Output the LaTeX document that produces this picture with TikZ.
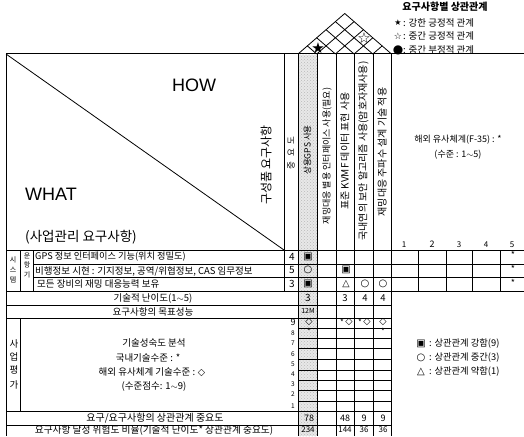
\documentclass[tikz,border=0pt]{standalone}
\usepackage{fontspec}
\setmainfont{Noto Sans CJK KR}
\newfontfamily\symf{DejaVu Sans}
\newfontfamily\latf{Liberation Sans}
\usetikzlibrary{patterns}
\tikzset{
  lab/.style={inner sep=0pt,anchor=center,font=\fontsize{#1}{#1}\selectfont},
  lableft/.style={inner sep=0pt,anchor=west,font=\fontsize{#1}{#1}\selectfont},
  symb/.style={inner sep=0pt,anchor=center,font=\symf\fontsize{#1}{#1}\selectfont},
  big/.style={inner sep=0pt,anchor=center,font=\latf\fontsize{#1}{#1}\selectfont},
  gridline/.style={line width=1pt,black},
  thin grid/.style={line width=0.8pt,black}
}
\begin{document}
\begin{tikzpicture}[x=1pt,y=-1pt]
\useasboundingbox (0,0) rectangle (524,436);
\fill[white] (0,0) rectangle (524,436);
% shaded column
\fill[gray!18] (298,55) rectangle (317,436);
\fill[pattern=crosshatch dots,pattern color=gray!55] (298,55) rectangle (317,436);
% roof lattice
\foreach \i in {0,...,5}{
  \pgfmathsetmacro{\xa}{298+18.7*\i}
  \pgfmathsetmacro{\xb}{298+18.7*\i+9.35*(5-\i)}
  \pgfmathsetmacro{\yb}{54-8.1*(5-\i)}
  \draw[thin grid] (\xa,54) -- (\xb,\yb);
  \pgfmathsetmacro{\xd}{298+18.7*\i-9.35*\i}
  \pgfmathsetmacro{\yd}{54-8.1*\i}
  \draw[thin grid] (\xa,54) -- (\xd,\yd);
}
% main outline
\draw[gridline] (6,54) -- (524,54);
\draw[gridline] (6,54) -- (6,436);
\draw[thin grid] (6,54) -- (284,250);
% columns
\draw[thin grid] (284,54) -- (284,291);
\foreach \x in {298,317,336,354,373,391}{\draw[gridline] (\x,54) -- (\x,436);}
\draw[gridline] (20,250) -- (20,291);
\draw[gridline] (33,250) -- (33,291);
\draw[gridline] (20,318) -- (20,411);
\foreach \x in {418,446,472,500}{\draw[gridline] (\x,250) -- (\x,291);}
% rows
\draw[gridline] (6,250) -- (524,250);
\draw[gridline] (33,264) -- (524,264);
\draw[gridline] (33,277) -- (524,277);
\draw[gridline] (6,291) -- (524,291);
\draw[gridline] (6,305) -- (391,305);
\draw[gridline] (6,318) -- (391,318);
\foreach \y in {328,338,348,359,370,380,390,401}{\draw[gridline] (298,\y) -- (391,\y);}
\draw[gridline] (6,411) -- (391,411);
\draw[gridline] (6,425) -- (391,425);
% roof symbols
\node[symb=15] (rstar) at (318,48.5) {★};
\node[symb=15] (rostar) at (364,38.5) {☆};
% legend top
\node[lab=10,font=\bfseries\fontsize{10}{10}\selectfont] (lt) at (445,7) {요구사항별 상관관계};
\node[symb=8] (l1s) at (398,23) {★};
\node[lableft=9.5] (l1) at (403,23) {: 강한 긍정적 관계};
\node[symb=9] (l2s) at (398,36) {☆};
\node[lableft=9.5] (l2) at (403,36) {: 중간 긍정적 관계};
\node[symb=12] (l3s) at (398,50) {●};
\node[lableft=9.5] (l3) at (403,50) {: 중간 부정적 관계};
% main labels
\node[big=18] (how) at (194,85) {HOW};
\node[big=18] (what) at (51,194) {WHAT};
\node[lab=13.5] (sub) at (81,237) {(사업관리 요구사항)};
\node[lab=12,rotate=90] (parts) at (266,165) {구성품 요구사항};
\node[lab=8.5,rotate=90] (imp) at (291,153) {중\hspace{5pt}요\hspace{5pt}도};
\node[lab=8.5,rotate=90] (c2) at (307.5,150) {상용GPS 사용};
\node[lab=9,rotate=90] (c3) at (327,156) {재밍대응 별용 인터페이스 사용(필요)};
\node[lab=10,rotate=90] (c4) at (345,151) {표준 KVMF 데이터 표현 사용};
\node[lab=10,rotate=90] (c5) at (363.5,151) {국내연의 보안 알고리즘 사용(암호자재사용)};
\node[lab=10,rotate=90] (c6) at (382,152) {재밍대응 주파수 설계 기술 적용};
\node[lab=9] (f1) at (458,140) {해외 유사체계(F-35) : *};
\node[lab=9] (f2) at (458,155) {(수준 : 1$\sim$5)};
% scale heads
\node[lab=8] (s1) at (404,245) {1};
\node[lab=9] (s2) at (432,244) {2};
\node[lab=8] (s3) at (459,245) {3};
\node[lab=8] (s4) at (486,245) {4};
\node[lab=8] (s5) at (512,245) {5};
\foreach \y/\n in {255/a,269/b,283/c}{\node[lab=9] (st\n) at (513,\y) {*};}
% left labels
\foreach \t/\y/\n in {시/260/a,스/270/b,템/280/c}{\node[lab=7] (sys\n) at (13,\y) {\t};}
\foreach \t/\y/\n in {운/256/a,항/265/b,기/275/c}{\node[lab=7] (op\n) at (27,\y) {\t};}
\foreach \t/\y/\n in {사/344/a,업/357/b,평/370/c,가/385/d}{\node[lab=9.5] (ev\n) at (14,\y) {\t};}
\node[lableft=9.2] (r1) at (35,257) {GPS 정보 인터페이스 기능(위치 정밀도)};
\node[lableft=9.5] (r2) at (35,271) {비행정보 시현 : 기지정보, 공역/위협정보, CAS 임무정보};
\node[lableft=9.5] (r3) at (37,284) {모든 장비의 재밍 대응능력 보유};
\node[lab=9.5] (r4) at (153,298) {기술적 난이도(1$\sim$5)};
\node[lab=9.5] (r5) at (153,312) {요구사항의 목표성능};
\node[lab=9.5] (m1) at (154,343) {기술성숙도 분석};
\node[lab=9.5] (m2) at (148,358) {국내기술수준 : *};
\node[lab=9.5] (m3) at (152,372) {해외 유사체계 기술수준 : {\symf ◇}};
\node[lab=9.5] (m4) at (154,386) {(수준점수: 1$\sim$9)};
\node[lab=10] (b1) at (155,418) {요구/요구사항의 상관관계 중요도};
\node[lab=9.7] (b2) at (154,430) {요구사항 달성 위험도 비율(기술적 난이도* 상관관계 중요도)};
% importance numbers
\foreach \v/\y/\n in {4/257/a,5/270/b,3/284/c}{\node[lab=10] (im\n) at (292,\y) {\v};}
\foreach \v/\y/\n in {9/322/a}{\node[lab=9] (sc\n) at (293,\y) {\v};}
\foreach \v/\y/\n in {8/333/b,7/343/c,6/354/d,5/364/e,4/374/f,3/384/g,2/394/h,1/406/i}{\node[lab=6.5] (sc\n) at (293,\y) {\v};}
% relationship symbols
\node[symb=10] (a1) at (308,257) {▣};
\node[symb=10] (a2) at (308,270) {○};
\node[symb=10] (a3) at (308,284) {▣};
\node[symb=10] (a4) at (346,270) {▣};
\node[symb=9.5] (a5) at (346,284) {△};
\node[symb=10] (a6) at (365,284) {○};
\node[symb=10] (a7) at (383,284) {○};
\node[lab=10] (v1) at (308,298) {3};
\node[lab=9.5] (v2) at (345,298) {3};
\node[lab=9.5] (v3) at (365,298) {4};
\node[lab=9.5] (v4) at (383,298) {4};
\node[lab=7] (v5) at (308,311) {12M};
\node[symb=9.5] (d1) at (309,322) {◇};
\node[lab=8] (d1s) at (309,331) {*};
\node[lab=8] (d2s) at (342,322) {*};
\node[symb=9.5] (d2) at (349,322) {◇};
\node[lab=8] (d3s) at (360,322) {*};
\node[symb=9.5] (d3) at (367,322) {◇};
\node[symb=9.5] (d4) at (383,322) {◇};
\node[lab=8] (d4s) at (383,331) {*};
\node[lab=9] (t1) at (309,418) {78};
\node[lab=9] (t2) at (345,418) {48};
\node[lab=9] (t3) at (364,418) {9};
\node[lab=9] (t4) at (383,418) {9};
\node[lab=8] (u1) at (308,430) {234};
\node[lab=8] (u2) at (345,430) {144};
\node[lab=8] (u3) at (364,430) {36};
\node[lab=8] (u4) at (383,430) {36};
% legend right
\node[symb=10] (k1s) at (421,344) {▣};
\node[lableft=9.3] (k1) at (429,344) {: 상관관계 강함(9)};
\node[symb=10] (k2s) at (421,358) {○};
\node[lableft=9.3] (k2) at (429,358) {: 상관관계 중간(3)};
\node[symb=10] (k3s) at (421,372) {△};
\node[lableft=9.3] (k3) at (429,372) {: 상관관계 약함(1)};
\end{tikzpicture}
\end{document}
